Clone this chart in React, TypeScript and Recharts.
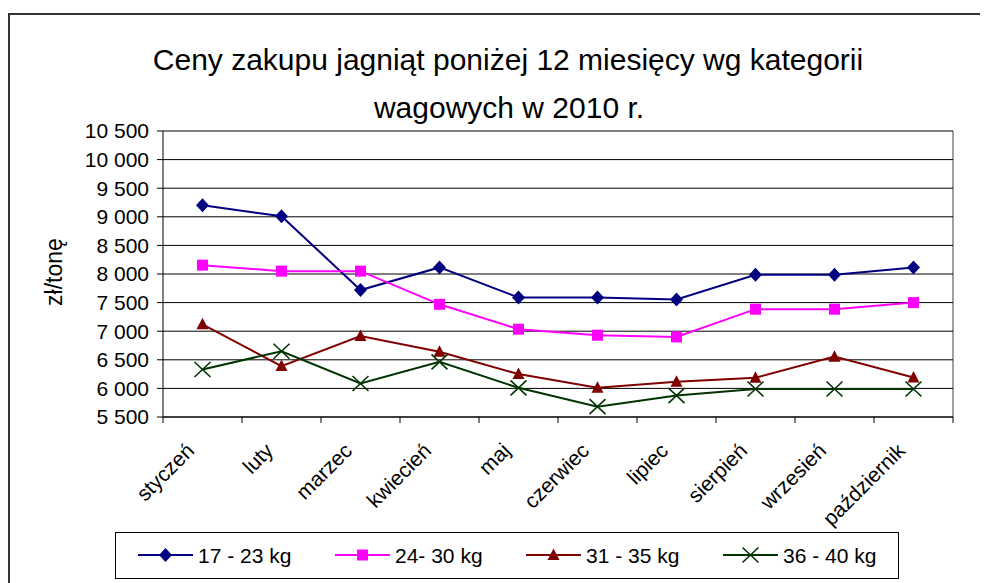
import React from "react";
import { LineChart, Line, XAxis, YAxis, CartesianGrid, Legend } from "recharts";

const months = [
  "styczeń", "luty", "marzec", "kwiecień", "maj",
  "czerwiec", "lipiec", "sierpień", "wrzesień", "październik",
];
const kg17_23 = [9200, 9010, 7720, 8115, 7590, 7590, 7555, 7985, 7985, 8115];
const kg24_30 = [8155, 8050, 8050, 7470, 7035, 6930, 6900, 7385, 7385, 7500];
const kg31_35 = [7120, 6390, 6915, 6640, 6250, 6010, 6115, 6185, 6555, 6190];
const kg36_40 = [6330, 6650, 6085, 6465, 6010, 5680, 5875, 5990, 5990, 5990];
const yTicks = [5500, 6000, 6500, 7000, 7500, 8000, 8500, 9000, 9500, 10000, 10500];

const seriesNames = ["17 - 23 kg", "24- 30 kg", "31 - 35 kg", "36 - 40 kg"];

const data = months.map((m, i) => ({
  name: m,
  a: kg17_23[i],
  b: kg24_30[i],
  c: kg31_35[i],
  d: kg36_40[i],
}));

const FONT = "'Liberation Sans', Arial, sans-serif";
const W = 980;
const H = 575;
const HALF_BAND = 39.5;

const series = [
  { key: "a", color: "#000080", shape: "diamond" },
  { key: "b", color: "#FF00FF", shape: "square" },
  { key: "c", color: "#800000", shape: "triangle" },
  { key: "d", color: "#003300", shape: "cross" },
];

function Marker({ cx, cy, shape, color }: any) {
  if (cx == null || cy == null) return null;
  switch (shape) {
    case "diamond":
      return (
        <polygon
          points={`${cx},${cy - 7} ${cx + 6.5},${cy} ${cx},${cy + 7} ${cx - 6.5},${cy}`}
          fill={color}
        />
      );
    case "square":
      return <rect x={cx - 5.5} y={cy - 5.5} width={11} height={11} fill={color} />;
    case "triangle":
      return (
        <polygon
          points={`${cx},${cy - 6.5} ${cx + 6},${cy + 5} ${cx - 6},${cy + 5}`}
          fill={color}
        />
      );
    default:
      return (
        <g stroke={color} strokeWidth={1.6}>
          <line x1={cx - 8} y1={cy - 7.5} x2={cx + 8} y2={cy + 7.5} />
          <line x1={cx - 8} y1={cy + 7.5} x2={cx + 8} y2={cy - 7.5} />
        </g>
      );
  }
}

const makeDot = (shape: string, color: string) => (props: any) => (
  <Marker key={`${shape}-${props.index}`} cx={props.cx} cy={props.cy} shape={shape} color={color} />
);

const fmt = (v: number) => {
  const th = Math.floor(v / 1000);
  const rest = String(v % 1000).padStart(3, "0");
  return `${th} ${rest}`;
};

function CategoryTick(props: any) {
  const { x, y, payload, index, visibleTicksCount } = props;
  const last = index === visibleTicksCount - 1;
  const ax = x - 7;
  const ay = y + 35;
  return (
    <g>
      <line x1={x - HALF_BAND} y1={y} x2={x - HALF_BAND} y2={y + 6} stroke="#000" />
      {last && <line x1={x + HALF_BAND} y1={y} x2={x + HALF_BAND} y2={y + 6} stroke="#000" />}
      <text
        x={ax}
        y={ay}
        transform={`rotate(-45 ${ax} ${ay})`}
        textAnchor="end"
        fontSize={21}
        fontFamily={FONT}
        fill="#000"
      >
        {payload.value}
      </text>
    </g>
  );
}

function LegendBox() {
  const starts = [23, 220, 411, 608];
  return (
    <svg width={784} height={47} style={{ display: "block" }}>
      <rect x={0.5} y={0.5} width={783} height={46} fill="#fff" stroke="#000" />
      {series.map((s, i) => (
        <g key={s.key}>
          <line x1={starts[i]} y1={23} x2={starts[i] + 55} y2={23} stroke={s.color} strokeWidth={2} />
          <Marker cx={starts[i] + 27.5} cy={23} shape={s.shape} color={s.color} />
          <text x={starts[i] + 60} y={30.5} fontSize={21} fontFamily={FONT} fill="#000">
            {seriesNames[i]}
          </text>
        </g>
      ))}
    </svg>
  );
}

export default function App() {
  return (
    <div style={{ position: "relative", width: W, height: H, overflow: "hidden", background: "#fff" }}>
      <div
        style={{
          position: "absolute",
          left: 0,
          top: 5,
          right: 0,
          bottom: 0,
          borderLeft: "2px solid #333",
          borderTop: "2px solid #333",
        }}
      />
      <LineChart width={W} height={H} data={data} margin={{ top: 123, right: 35, bottom: 0, left: 0 }}>
        {/* gray frame on the right edge of the plot area */}
        <CartesianGrid
          horizontal={false}
          stroke="#808080"
          strokeWidth={1.5}
          verticalCoordinatesGenerator={({ offset }: any) => [offset.left + offset.width]}
        />
        <CartesianGrid vertical={false} stroke="#000" />
        <XAxis
          dataKey="name"
          height={166}
          padding={{ left: HALF_BAND, right: HALF_BAND }}
          interval={0}
          tickLine={false}
          tickSize={0}
          tickMargin={0}
          axisLine={{ stroke: "#000" }}
          tick={<CategoryTick />}
        />
        <YAxis
          width={155}
          domain={[5500, 10500]}
          ticks={yTicks}
          interval={0}
          tickFormatter={fmt}
          tickSize={6}
          tickMargin={8}
          tickLine={{ stroke: "#000" }}
          axisLine={{ stroke: "#000" }}
          tick={{ fill: "#000", fontSize: 21, fontFamily: FONT }}
        />
        {series.map((s) => (
          <Line
            key={s.key}
            dataKey={s.key}
            stroke={s.color}
            strokeWidth={2}
            dot={makeDot(s.shape, s.color)}
            activeDot={false}
            isAnimationActive={false}
          />
        ))}
        <Legend
          layout="horizontal"
          verticalAlign="middle"
          align="center"
          wrapperStyle={{ left: 107, top: 524, width: 784, height: 47 }}
          content={() => <LegendBox />}
        />
      </LineChart>
      <svg width={W} height={H} style={{ position: "absolute", left: 0, top: 0, pointerEvents: "none" }}>
        <text x={500} y={62} textAnchor="middle" fontSize={30} fontFamily={FONT} fill="#000">
          Ceny zakupu jagniąt poniżej 12 miesięcy wg kategorii
        </text>
        <text x={501} y={110} textAnchor="middle" fontSize={30} fontFamily={FONT} fill="#000">
          wagowych w 2010 r.
        </text>
        <text
          x={54}
          y={264}
          transform="rotate(-90 54 264)"
          textAnchor="middle"
          fontSize={23}
          fontFamily={FONT}
          fill="#000"
        >
          zł/tonę
        </text>
      </svg>
    </div>
  );
}
